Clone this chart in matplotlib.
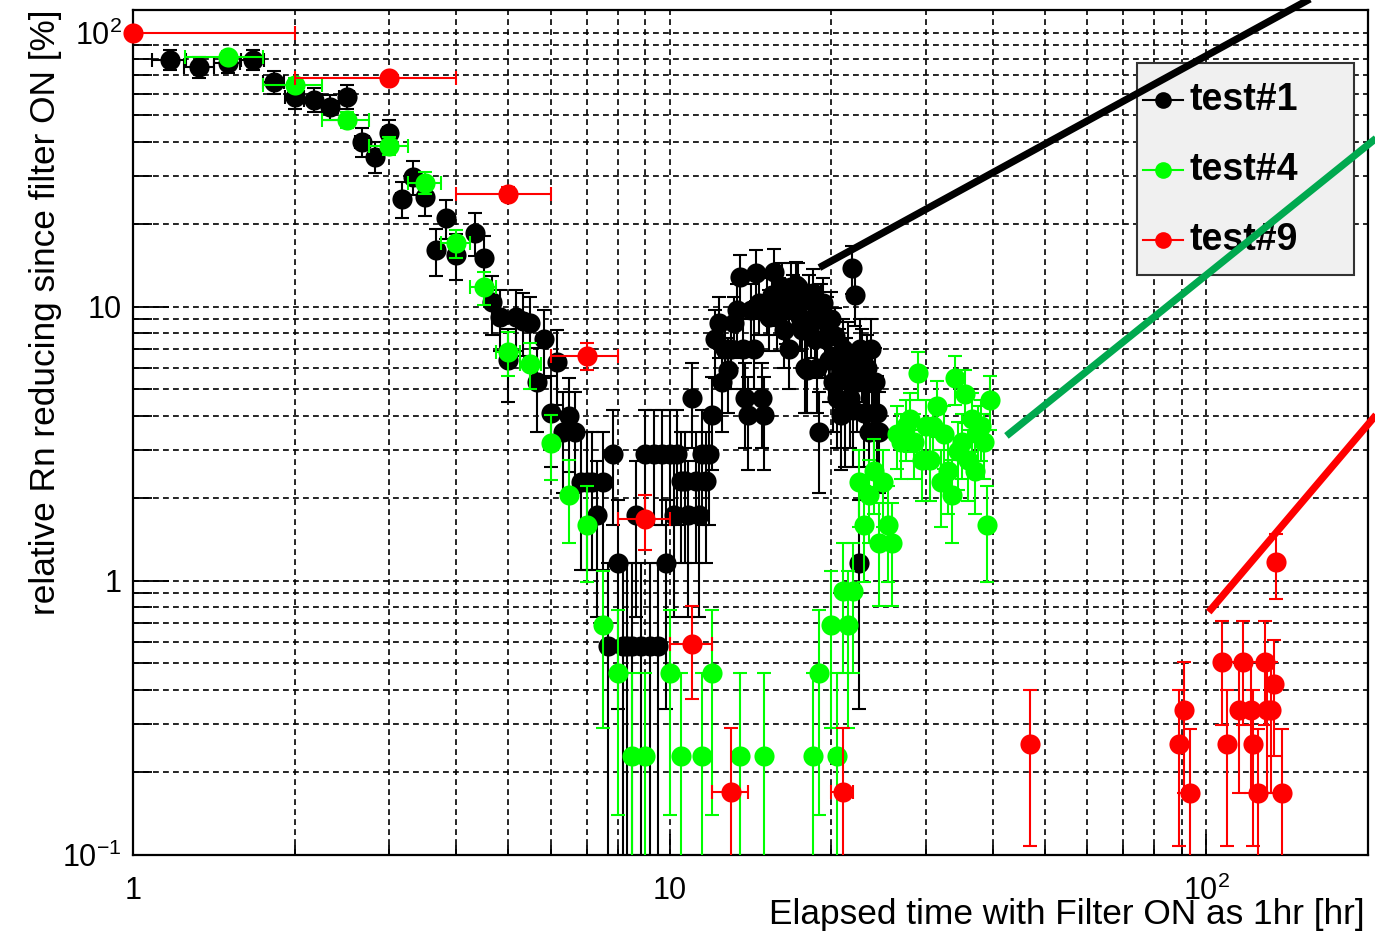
import numpy as np
import matplotlib
matplotlib.use("Agg")
import matplotlib.pyplot as plt
from matplotlib.lines import Line2D
from matplotlib.patches import Rectangle
from matplotlib.ticker import LogLocator, NullFormatter

plt.rcParams['font.family'] = ['Liberation Sans', 'DejaVu Sans']
plt.rcParams['mathtext.fontset'] = 'custom'
plt.rcParams['mathtext.rm'] = 'Liberation Sans'
plt.rcParams['mathtext.it'] = 'Liberation Sans:italic'
plt.rcParams['mathtext.bf'] = 'Liberation Sans:bold'

# test#1 : 10 min bins (half width 1/12 hr)
black_x = [
    1.17, 1.33, 1.50, 1.67, 1.83,
    2.00, 2.17, 2.33, 2.50, 2.67, 2.83,
    3.00, 3.17, 3.33, 3.50, 3.67, 3.83,
    4.00, 4.33, 4.50, 4.67, 4.83,
    5.00, 5.17, 5.33, 5.50, 5.67, 5.83,
    6.00, 6.17, 6.33, 6.50, 6.67, 6.83,
    7.00, 7.17, 7.33, 7.50, 7.67, 7.83,
    8.00, 8.17, 8.33, 8.50, 8.67, 8.83,
    9.00, 9.17, 9.33, 9.50, 9.67, 9.83,
    10.00, 10.17, 10.33, 10.50, 10.67, 10.83,
    11.00, 11.17, 11.33, 11.50, 11.67, 11.83,
    12.00, 12.17, 12.33, 12.50, 12.67, 12.83,
    13.00, 13.17, 13.33, 13.50, 13.67, 13.83,
    14.00, 14.17, 14.33, 14.50, 14.67, 14.83,
    15.00, 15.17, 15.33, 15.50, 15.67, 15.83,
    16.00, 16.17, 16.33, 16.50, 16.67, 16.83,
    17.00, 17.17, 17.33, 17.50, 17.67, 17.83,
    18.00, 18.17, 18.33, 18.50, 18.67, 18.83,
    19.00, 19.17, 19.33, 19.50, 19.67, 19.83,
    20.00, 20.17, 20.33, 20.50, 20.67, 20.83,
    21.00, 21.17, 21.33, 21.50, 21.67, 21.83,
    22.00, 22.17, 22.33, 22.50, 22.67, 22.83,
    23.00, 23.17, 23.33, 23.50, 23.67, 23.83,
    24.00, 24.17, 24.33, 24.50,
]
black_y = [
    79.6, 75.2, 77.7, 79.6, 66.2,
    58.4, 56.9, 53.7, 58.4, 40.0, 35.3,
    43.1, 24.8, 29.8, 25.2, 16.1, 21.1,
    15.5, 18.6, 15.1, 10.4, 9.2,
    6.4, 9.2, 8.9, 8.7, 5.3, 7.6,
    4.1, 6.3, 3.5, 4.0, 3.5, 2.3,
    2.3, 2.3, 1.74, 2.3, 0.58, 2.9,
    1.16, 0.58, 0.58, 0.58, 1.74, 0.58,
    2.9, 0.58, 2.9, 0.58, 2.9, 1.16,
    2.9, 1.74, 2.9, 2.32, 2.32, 1.74,
    4.66, 2.32, 1.74, 2.9, 2.32, 2.9,
    4.04, 7.6, 8.7, 5.3, 7.0, 5.9,
    7.0, 8.7, 9.7, 12.8, 7.0, 4.66,
    4.04, 9.7, 7.0, 13.3, 10.3, 4.66,
    4.04, 10.3, 9.2, 11.0, 13.4, 9.2,
    10.3, 11.8, 8.2, 9.7, 7.0, 11.8,
    10.6, 12.0, 11.8, 9.2, 8.2, 6.0,
    5.9, 10.6, 8.7, 11.2, 7.6, 6.0,
    3.5, 9.7, 10.3, 7.6, 8.7, 6.4,
    9.0, 5.3, 7.8, 4.66, 6.4, 4.04,
    7.0, 4.2, 5.9, 6.8, 4.66, 13.9,
    4.2, 11.0, 5.3, 1.16, 7.0, 6.4,
    4.1, 5.3, 6.0, 3.5, 7.0, 5.3,
    4.1, 5.3, 4.1, 3.5,
]
black_yerr = [
    6.8, 6.6, 6.7, 6.8, 6.2,
    5.8, 5.7, 5.6, 5.8, 4.8, 4.5,
    5.0, 3.8, 4.2, 3.8, 3.1, 3.5,
    3.0, 3.3, 3.0, 2.5, 2.3,
    1.9, 2.3, 2.3, 2.2, 1.8, 2.1,
    1.5, 1.9, 1.4, 1.5, 1.4, 1.2,
    1.2, 1.2, 1.0, 1.2, 0.58, 1.3,
    0.82, 0.58, 0.58, 0.58, 1.0, 0.58,
    1.3, 0.58, 1.3, 0.58, 1.3, 0.82,
    1.3, 1.0, 1.3, 1.16, 1.16, 1.0,
    1.6, 1.16, 1.0, 1.3, 1.16, 1.3,
    1.5, 2.1, 2.2, 1.8, 2.0, 1.8,
    2.0, 2.2, 2.4, 2.7, 2.0, 1.6,
    1.5, 2.4, 2.0, 2.8, 2.4, 1.6,
    1.5, 2.4, 2.3, 2.5, 2.8, 2.3,
    2.4, 2.6, 2.2, 2.4, 2.0, 2.6,
    2.5, 2.6, 2.6, 2.3, 2.2, 1.9,
    1.8, 2.5, 2.2, 2.5, 2.1, 1.9,
    1.4, 2.4, 2.4, 2.1, 2.2, 1.9,
    2.3, 1.8, 2.1, 1.6, 1.9, 1.5,
    2.0, 1.6, 1.8, 2.0, 1.6, 2.8,
    1.6, 2.5, 1.8, 0.82, 2.0, 1.9,
    1.5, 1.8, 1.9, 1.4, 2.0, 1.8,
    1.5, 1.8, 1.5, 1.4,
]
black_xerr = 0.083

# test#4
green_x = [
    1.5, 2.0, 2.5, 3.0, 3.5, 4.0, 4.5, 5.0, 5.5,
    6.0, 6.5, 7.0, 7.5, 8.0, 8.5, 9.0, 10.0, 10.5, 11.5, 12.0, 13.5, 15.0,
    18.5, 19.0, 20.0, 20.5, 21.0, 21.5, 22.0,
    22.5, 23.0, 23.5, 24.0, 24.5, 25.0, 25.5, 26.0, 26.5, 27.0, 27.5, 28.0,
    28.5, 29.0, 29.5, 30.0, 30.5, 31.0, 31.5, 32.0, 32.5, 33.0, 33.5, 34.0,
    34.5, 35.0, 35.5, 36.0, 36.5, 37.0, 37.5, 38.0, 38.5, 39.0, 39.5,
]
green_y = [
    81.7, 64.6, 48.1, 38.7, 28.4, 17.1, 11.8, 6.86, 6.20,
    3.19, 2.06, 1.60, 0.69, 0.46, 0.23, 0.23, 0.46, 0.23, 0.23, 0.46, 0.23, 0.23,
    0.23, 0.46, 0.69, 0.23, 0.92, 0.69, 0.92,
    2.29, 1.60, 2.06, 2.52, 1.37, 2.29, 1.60, 1.37, 3.44, 3.21, 3.66, 3.89,
    3.21, 5.72, 2.75, 3.66, 2.75, 3.66, 4.35, 2.29, 3.44, 2.52, 2.06, 5.50,
    2.98, 3.21, 4.81, 2.75, 3.89, 2.52, 3.44, 3.66, 3.21, 1.60, 4.58,
]
green_yerr = [
    4.3, 3.8, 3.3, 3.0, 2.55, 2.0, 1.64, 1.25, 1.19,
    0.85, 0.69, 0.61, 0.40, 0.32, 0.23, 0.23, 0.32, 0.23, 0.23, 0.32, 0.23, 0.23,
    0.23, 0.32, 0.40, 0.23, 0.46, 0.40, 0.46,
    0.72, 0.61, 0.69, 0.76, 0.56, 0.72, 0.61, 0.56, 0.89, 0.86, 0.92, 0.94,
    0.86, 1.14, 0.79, 0.92, 0.79, 0.92, 1.00, 0.72, 0.89, 0.76, 0.69, 1.12,
    0.83, 0.86, 1.05, 0.79, 0.94, 0.76, 0.89, 0.92, 0.86, 0.61, 1.02,
]
green_xerr = [
    0.25, 0.25, 0.25, 0.25, 0.25, 0.25, 0.25, 0.25, 0.25,
    0, 0, 0, 0, 0, 0, 0, 0, 0, 0, 0, 0, 0,
    0, 0, 0, 0, 0, 0, 0,
    0, 0, 0, 0, 0, 0, 0, 0, 0, 0, 0, 0,
    0, 0, 0, 0, 0, 0, 0, 0, 0, 0, 0, 0,
    0, 0, 0, 0, 0, 0, 0, 0, 0, 0, 0,
]

# test#9
red_x = [1, 3, 5, 7, 9, 11, 13, 21, 47, 89, 91, 93, 107, 109, 115, 117,
         121, 122, 124.5, 128.5, 129.5, 132, 133.5, 135, 138.5]
red_y = [100, 68.5, 25.8, 6.62, 1.68, 0.59, 0.17, 0.17, 0.254, 0.254, 0.338,
         0.169, 0.506, 0.254, 0.338, 0.506, 0.338, 0.254, 0.169, 0.506, 0.338,
         0.338, 0.42, 1.17, 0.169]
red_yerr = [2.9, 2.4, 1.48, 0.75, 0.38, 0.22, 0.12, 0.12, 0.146, 0.146, 0.169,
            0.12, 0.207, 0.146, 0.169, 0.207, 0.169, 0.146, 0.12, 0.207, 0.169,
            0.169, 0.19, 0.31, 0.12]
red_xerr = [1, 1, 1, 1, 1, 1, 1, 1, 0, 0, 0, 0, 0, 0, 0, 0,
            0, 0, 0, 0, 0, 0, 0, 0, 0]

# thick pointer lines drawn over the plot (start, end in data units)
black_pointer_x = [19.0, 236.0]
black_pointer_y = [13.9, 207.0]
green_pointer_x = [42.4, 240.0]
green_pointer_y = [3.38, 52.0]
red_pointer_x = [101.0, 240.0]
red_pointer_y = [0.77, 5.67]

labels = ['test#1', 'test#4', 'test#9']
colors = ['#000000', '#00ff00', '#ff0000']
pointer_colors = ['#000000', '#00a94f', '#ff0000']

W, H = 1375, 932


def fx(px):
    return px / W


def fy(py):
    return 1 - py / H


fig = plt.figure(figsize=(W / 100, H / 100), dpi=100)
ax = fig.add_axes([fx(133), fy(855), fx(1368) - fx(133), fy(10) - fy(855)])
ax.set_xscale('log', nonpositive='clip')
ax.set_yscale('log', nonpositive='clip')

series = [
    (black_x, black_y, black_yerr, black_xerr),
    (green_x, green_y, green_yerr, green_xerr),
    (red_x, red_y, red_yerr, red_xerr),
]
for i, (x, y, yerr, xerr) in enumerate(series):
    ax.errorbar(x, y, yerr=yerr, xerr=xerr, fmt='none', ecolor=colors[i],
                elinewidth=1.5, capsize=4.8, capthick=1.5, zorder=2 + i)
    ax.plot(x, y, 'o', color=colors[i], markersize=14.5, markeredgewidth=0,
            clip_on=False, zorder=2.5 + i)

pointers = [
    (black_pointer_x, black_pointer_y),
    (green_pointer_x, green_pointer_y),
    (red_pointer_x, red_pointer_y),
]
for (px_, py_), c in zip(pointers, pointer_colors):
    ax.plot(px_, py_, color=c, lw=5.2, solid_capstyle='butt',
            clip_on=False, zorder=10)

ax.set_xlim(1, 200)
ax.set_ylim(0.1, 121)

ax.set_xticks([1, 10, 100], labels=['1', '10', '10$^{2}$'])
ax.set_yticks([0.1, 1, 10, 100], labels=['10$^{-1}$', '1', '10', '10$^{2}$'])
for axis in (ax.xaxis, ax.yaxis):
    axis.set_minor_locator(LogLocator(base=10, subs=np.arange(2, 10), numticks=20))
    axis.set_minor_formatter(NullFormatter())

ax.tick_params(axis='both', which='both', direction='in', top=False,
               right=False, width=1.3, colors='black')
ax.tick_params(axis='x', which='major', length=15, pad=15, labelsize=22)
ax.tick_params(axis='x', which='minor', length=7.5)
ax.tick_params(axis='y', which='major', length=26, pad=8, labelsize=22)
ax.tick_params(axis='y', which='minor', length=13.5)

ax.grid(True, which='both', color='black', linestyle=(0, (3.5, 2.5)),
        linewidth=1.2)
ax.set_axisbelow(True)
for sp in ax.spines.values():
    sp.set_linewidth(1.6)

# legend box
ax.add_patch(Rectangle((fx(1137), fy(275)), fx(1354) - fx(1137),
                       fy(63) - fy(275), transform=fig.transFigure,
                       facecolor='#f0f0f0', edgecolor='#333333', lw=1.5,
                       zorder=6, clip_on=False))
for i, row in enumerate([100, 170, 240]):
    ax.add_line(Line2D([fx(1143), fx(1183)], [fy(row), fy(row)],
                       transform=fig.transFigure, color=colors[i], lw=1.5,
                       zorder=7, clip_on=False))
    ax.add_line(Line2D([fx(1163)], [fy(row)], transform=fig.transFigure,
                       marker='o', markersize=12, markeredgewidth=0,
                       color=colors[i], zorder=7, clip_on=False))
    ax.text(fx(1190), fy(row), labels[i], transform=fig.transFigure,
            fontsize=27, fontweight='bold', ha='left', va='center', zorder=7)

fig.text(fx(46), fy(312), 'relative Rn reducing since filter ON [%]',
         rotation=90, ha='center', va='center', fontsize=25.4)
fig.text(fx(1365), fy(924), 'Elapsed time with Filter ON as 1hr [hr]',
         ha='right', va='baseline', fontsize=25.4)

fig.savefig('out.png', dpi=100)
